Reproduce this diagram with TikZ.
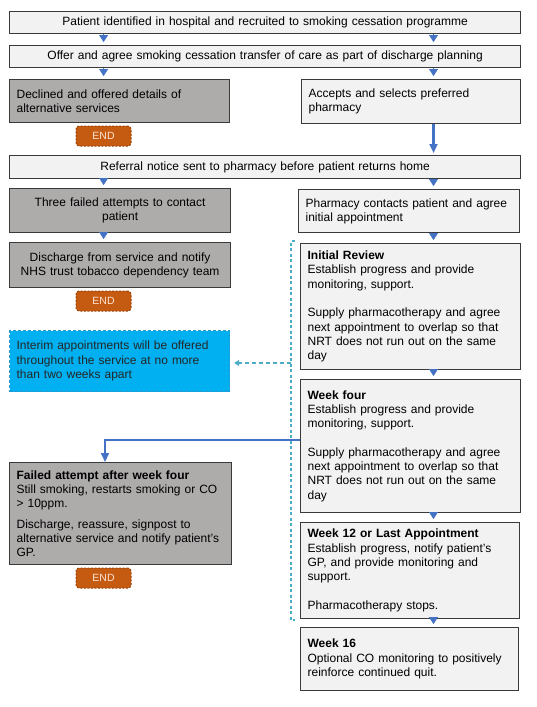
\documentclass[tikz,border=0pt]{standalone}
\usepackage{fontspec}
\setmainfont{Liberation Sans}
\usetikzlibrary{arrows.meta}
\definecolor{bord}{HTML}{3A3A3A}
\definecolor{lightf}{HTML}{F2F2F2}
\definecolor{darkf}{HTML}{AEABAB}
\definecolor{endf}{HTML}{C55A11}
\definecolor{endb}{HTML}{9A450C}
\definecolor{endt}{HTML}{FBE5D6}
\definecolor{interimf}{HTML}{00B0F0}
\definecolor{interimb}{HTML}{2A95C9}
\definecolor{arrowc}{HTML}{4472C4}
\definecolor{tealc}{HTML}{4BACC6}
\tikzset{
  base/.style={draw=bord, line width=1.2pt, anchor=north west, inner xsep=7pt, inner ysep=2pt,
    font=\fontsize{12}{14.3}\selectfont, text=black},
  lbox/.style={base, fill=lightf},
  dbox/.style={base, fill=darkf},
  ibox/.style={base, draw=interimb, dash pattern=on 3pt off 2pt, fill=interimf, text=black!85},
  endbox/.style={draw=endb, dash pattern=on 2pt off 1.5pt, line width=1pt, fill=endf, rounded corners=3pt,
    minimum width=55pt, minimum height=20pt, inner sep=0pt, text=endt,
    font=\fontsize{10.5}{12}\selectfont},
  tri/.style={draw=arrowc, line width=0.3pt, -{Triangle[width=9pt,length=7pt]}, shorten >=3pt},
  barrow/.style={draw=arrowc, line width=2.2pt, -{Triangle[width=8pt,length=9pt]}, shorten >=2pt},
  bracket/.style={draw=tealc, line width=1.3pt, dash pattern=on 3pt off 2.5pt},
  darrow/.style={draw=tealc, line width=1.3pt, dash pattern=on 4pt off 3pt, -{Triangle[width=6pt,length=5pt]}, shorten >=4pt},
}
\begin{document}
\begin{tikzpicture}[x=1pt,y=-1pt]
\useasboundingbox (0,0) rectangle (536,707);
\coordinate (xl) at (103.6,0);
\coordinate (xr) at (433.5,0);
\coordinate (xb) at (105,0);
\coordinate (yb) at (0,440);
\coordinate (brx) at (291,0);
\coordinate (bt) at (295,241);
\coordinate (bb) at (295,620);
\coordinate (da) at (291,363);

\node[lbox, align=center, minimum width=511pt, minimum height=22pt, text width=497pt] (b1) at (9,11)
  {Patient identified in hospital and recruited to smoking cessation programme};
\node[lbox, align=center, minimum width=511pt, minimum height=22pt, text width=497pt] (b2) at (9,45)
  {Offer and agree smoking cessation transfer of care as part of discharge planning};
\node[dbox, align=left, minimum width=220pt, minimum height=43pt, text width=206pt] (decl) at (9,79)
  {Declined and offered details of\\alternative services};
\node[lbox, align=left, minimum width=219pt, minimum height=44pt, text width=205pt] (acc) at (301,79)
  {Accepts and selects preferred\\pharmacy};
\node[endbox] (end1) at (103.5,136) {END};
\node[lbox, align=center, minimum width=511pt, minimum height=23pt, text width=497pt] (ref) at (9,155)
  {Referral notice sent to pharmacy before patient returns home};
\node[dbox, align=center, minimum width=221pt, minimum height=44pt, text width=207pt] (three) at (9,188)
  {Three failed attempts to contact\\patient};
\node[lbox, align=left, minimum width=221pt, minimum height=43pt, text width=207pt] (pharm) at (298,189)
  {Pharmacy contacts patient and agree\\initial appointment};
\node[dbox, align=center, minimum width=221pt, minimum height=45pt, text width=207pt] (disch) at (9,242)
  {Discharge from service and notify\\NHS trust tobacco dependency team};
\node[endbox] (end2) at (103.5,301) {END};
\node[lbox, align=left, minimum width=220pt, minimum height=126pt, text width=206pt] (init) at (300,243)
  {\textbf{Initial Review}\\Establish progress and provide\\monitoring, support.\\[14.3pt]Supply pharmacotherapy and agree\\next appointment to overlap so that\\NRT does not run out on the same\\day};
\node[ibox, align=left, minimum width=220pt, minimum height=61pt, text width=206pt] (interim) at (9,330)
  {Interim appointments will be offered\\throughout the service at no more\\than two weeks apart};
\node[lbox, align=left, minimum width=220pt, minimum height=133pt, text width=206pt] (wk4) at (300,379)
  {\textbf{Week four}\\Establish progress and provide\\monitoring, support.\\[14.3pt]Supply pharmacotherapy and agree\\next appointment to overlap so that\\NRT does not run out on the same\\day};
\node[dbox, align=left, minimum width=222pt, minimum height=102pt, text width=208pt] (fail) at (9,462)
  {\textbf{Failed attempt after week four}\\Still smoking, restarts smoking or CO\\> 10ppm.\\[6pt]Discharge, reassure, signpost to\\alternative service and notify patient's\\GP.};
\node[endbox] (end3) at (103.5,578) {END};
\node[lbox, align=left, minimum width=219pt, minimum height=96pt, text width=205pt] (wk12) at (300,522)
  {\textbf{Week 12 or Last Appointment}\\Establish progress, notify patient's\\GP, and provide monitoring and\\support.\\[14.3pt]Pharmacotherapy stops.};
\node[lbox, align=left, minimum width=218pt, minimum height=63pt, text width=204pt] (wk16) at (300,627)
  {\textbf{Week 16}\\Optional CO monitoring to positively\\reinforce continued quit.};

% small triangle connectors
\draw[tri] (b1.south -| xl) -- (b2.north -| xl);
\draw[tri] (b1.south -| xr) -- (b2.north -| xr);
\draw[tri] (b2.south -| xl) -- (decl.north -| xl);
\draw[tri] (b2.south -| xr) -- (acc.north -| xr);
\draw[tri] (ref.south -| xl) -- (three.north -| xl);
\draw[tri] (ref.south -| xr) -- (pharm.north -| xr);
\draw[tri] (three.south -| xl) -- (disch.north -| xl);
\draw[tri] (pharm.south -| xr) -- (init.north -| xr);
\draw[tri] (init.south -| xr) -- (wk4.north -| xr);
\draw[tri] (wk4.south -| xr) -- (wk12.north -| xr);
\draw[tri] (wk12.south -| xr) -- (wk16.north -| xr);

% thick blue connectors
\draw[barrow] (acc.south -| xr) -- (ref.north -| xr);
\draw[barrow, shorten >=0pt] (wk4.west |- yb) -- (xb |- yb) -- (fail.north -| xb);

% dashed bracket and interim arrow
\draw[bracket] (bt) -- (bt -| brx) -- (bb -| brx) -- (bb);
\draw[darrow] (da) -- (da -| interim.east);
\end{tikzpicture}
\end{document}
